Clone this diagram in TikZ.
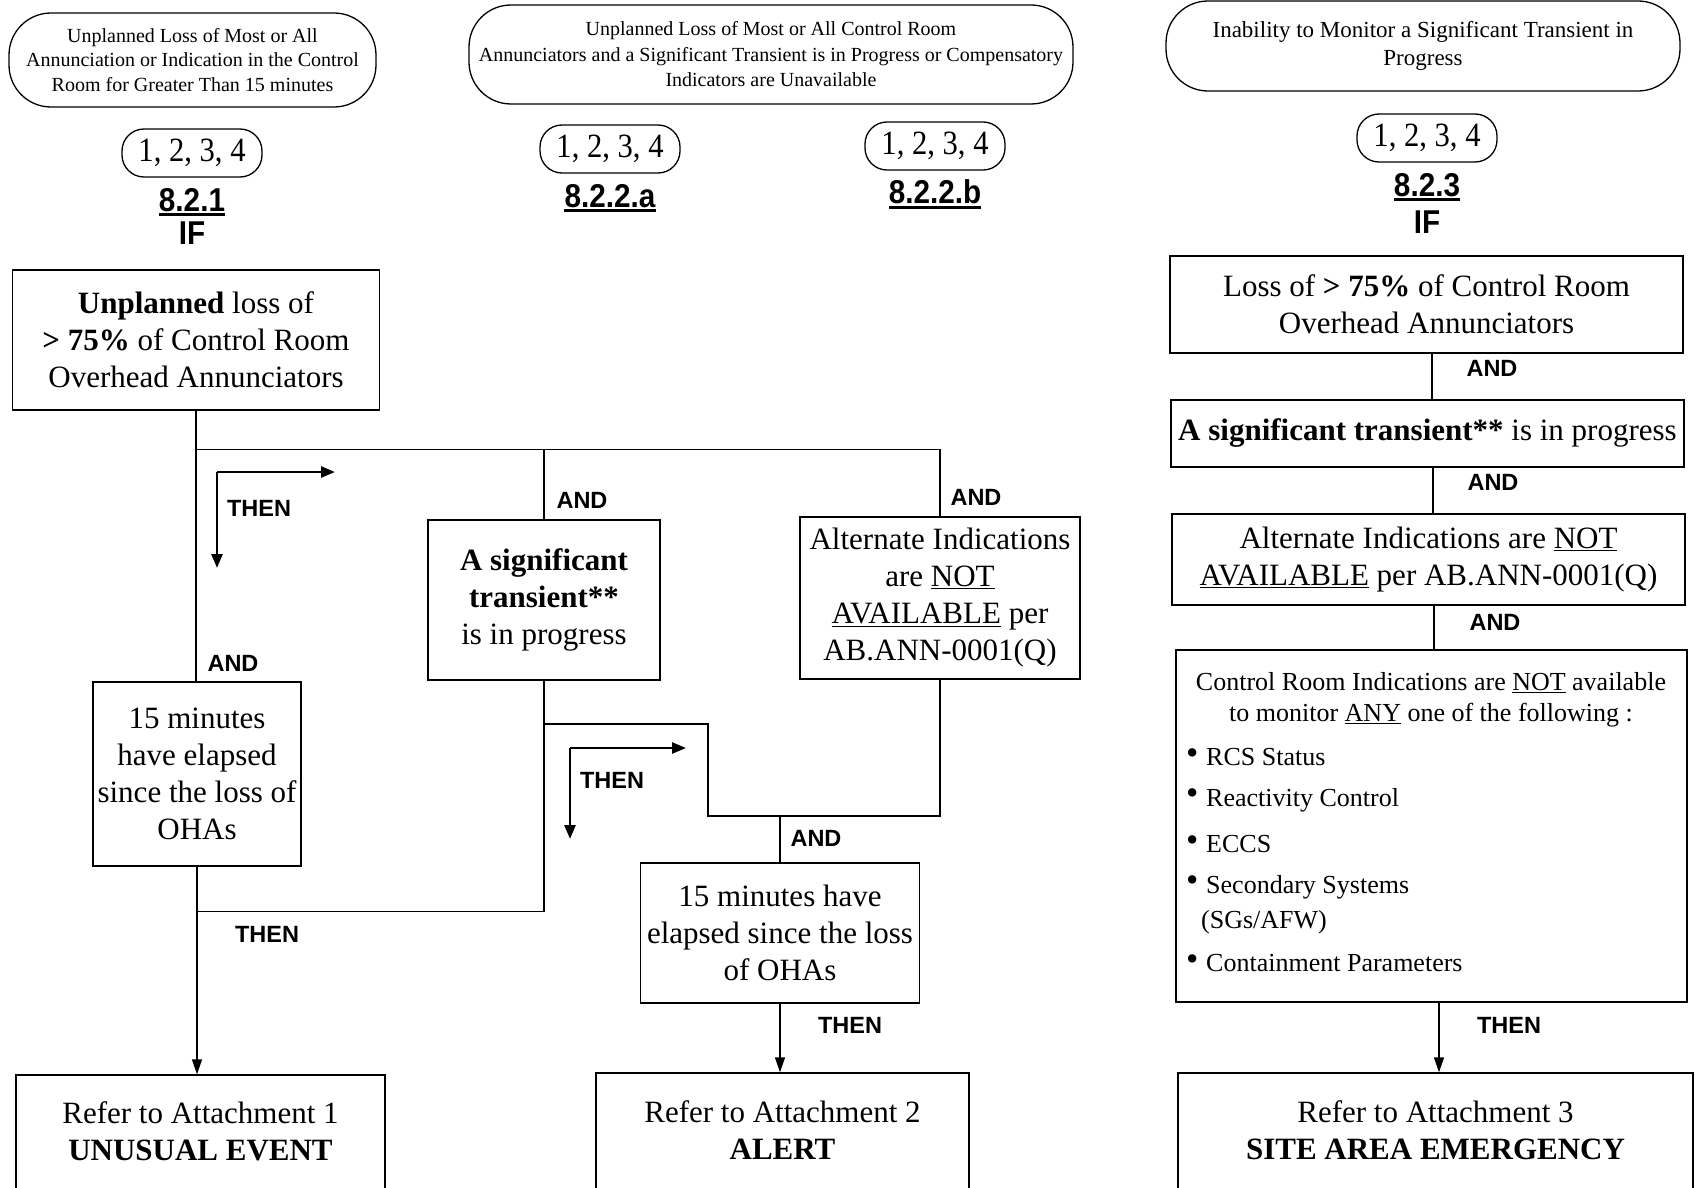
\documentclass[tikz,border=0pt]{standalone}
\usepackage{fontspec}
\setmainfont{Liberation Serif}
\setsansfont{Liberation Sans}
\newcommand\myul[1]{\underline{#1}}
\newcommand\mybul{\makebox[20pt][l]{\raisebox{1.5pt}{\scalebox{1.35}{\textbullet}}}}
\usetikzlibrary{arrows.meta,calc}
\tikzset{
  box/.style={draw, line width=1.4pt, inner sep=0pt, align=center, font=\fontsize{31}{37}\selectfont},
  plain/.style={inner sep=0pt, align=center, font=\fontsize{31}{37}\selectfont},
  oval/.style={draw, line width=1.3pt, rounded corners=42pt, inner sep=0pt, align=center},
  num/.style={draw, line width=1.3pt, rounded corners=22pt, minimum width=140pt, minimum height=48pt, inner sep=0pt, font=\fontsize{34}{36}\selectfont},
  sec/.style={font=\sffamily\bfseries\fontsize{33}{33}\selectfont, inner sep=0pt},
  lab/.style={font=\sffamily\bfseries\fontsize{23.5}{23.5}\selectfont, inner sep=0pt},
  conn/.style={line width=1.4pt},
  arr/.style={conn, -{Triangle[length=15pt,width=10pt]}},
  thenarr/.style={line width=2.6pt, -{Triangle[length=14pt,width=11pt]}},
  ulsec/.style={line width=2.8pt},
  r4txt/.style={inner sep=0pt, anchor=west, font=\fontsize{26}{30}\selectfont},
}
\begin{document}
\begin{tikzpicture}[x=1pt,y=-1pt]
\useasboundingbox (0,0) rectangle (1695,1188);
\clip (0,0) rectangle (1695,1188);
% ---------- header ovals ----------
\node[oval, minimum width=367pt, minimum height=94pt, font=\fontsize{20}{24.5}\selectfont] (O1) at (192.5,60)
  {Unplanned Loss of Most or All\\Annunciation or Indication in the Control\\Room for Greater Than 15 minutes};
\node[oval, minimum width=604pt, minimum height=99pt, font=\fontsize{20}{25.5}\selectfont] (O2) at (771,54.5)
  {Unplanned Loss of Most or All Control Room\\Annunciators and a Significant Transient is in Progress or Compensatory\\Indicators are Unavailable};
\node[oval, minimum width=514pt, minimum height=90pt, font=\fontsize{23}{28}\selectfont] (O3) at (1423,46)
  {Inability to Monitor a Significant Transient in\\Progress};
% ---------- mode ovals and section numbers ----------
\node[num] (S1) at (192,153) {\scalebox{0.9}[1]{1, 2, 3, 4}};
\node[num] (S2a) at (610,149) {\scalebox{0.9}[1]{1, 2, 3, 4}};
\node[num] (S2b) at (935,146) {\scalebox{0.9}[1]{1, 2, 3, 4}};
\node[num] (S3) at (1427,138) {\scalebox{0.9}[1]{1, 2, 3, 4}};
\node[sec] (H1) at (192,200) {\scalebox{0.9}[1]{8.2.1}};
\node[sec] (H2a) at (610,196) {\scalebox{0.9}[1]{8.2.2.a}};
\node[sec] (H2b) at (935,192) {\scalebox{0.9}[1]{8.2.2.b}};
\node[sec] (H3) at (1427,185) {\scalebox{0.9}[1]{8.2.3}};
\foreach \h in {H1,H2a,H2b,H3}
  \draw[ulsec] ([yshift=-3.5pt]\h.base west) -- ([yshift=-3.5pt]\h.base east);
\node[sec] (IF1) at (192,233) {\scalebox{0.9}[1]{IF}};
\node[sec] (IF3) at (1427,222) {\scalebox{0.9}[1]{IF}};
% ---------- left / middle boxes ----------
\node[box, minimum width=367pt, minimum height=140pt] (A) at (196,340)
  {\textbf{Unplanned} loss of\\\textbf{> 75\%} of Control Room\\Overhead Annunciators};
\node[box, minimum width=232pt, minimum height=160pt] (T) at (544,600)
  {\textbf{A significant}\\\textbf{transient**}\\is in progress};
\node[box, minimum width=280pt, minimum height=162pt] (Alt) at (940,598)
  {Alternate Indications\\are \myul{NOT}\\\myul{AVAILABLE} per\\AB.ANN-0001(Q)};
\node[box, minimum width=208pt, minimum height=184pt] (ML) at (197,774)
  {15 minutes\\have elapsed\\since the loss of\\OHAs};
\node[box, minimum width=279pt, minimum height=140pt] (MM) at (780,933)
  {15 minutes have\\elapsed since the loss\\of OHAs};
\node[box, minimum width=369pt, minimum height=150pt] (Att1) at (200.5,1150) {};
\node[plain] (Att1t) at (200.5,1131) {Refer to Attachment 1\\\textbf{UNUSUAL EVENT}};
\node[box, minimum width=373pt, minimum height=150pt] (Att2) at (782.5,1148) {};
\node[plain] (Att2t) at (782.5,1130) {Refer to Attachment 2\\\textbf{ALERT}};
% ---------- right column ----------
\node[box, minimum width=513pt, minimum height=97pt] (R1) at (1426.5,304.5)
  {Loss of \textbf{> 75\%} of Control Room\\Overhead Annunciators};
\node[box, minimum width=513pt, minimum height=67pt] (R2) at (1427.5,433.5)
  {\textbf{A significant transient**} is in progress};
\node[box, minimum width=513pt, minimum height=91pt] (R3) at (1428.5,559.5)
  {Alternate Indications are \myul{NOT}\\\myul{AVAILABLE} per AB.ANN-0001(Q)};
\node[box, minimum width=511pt, minimum height=352pt] (R4) at (1431.5,826) {};
\node[plain, font=\fontsize{26}{31}\selectfont] (R4h) at (1431,700)
  {Control Room Indications are \myul{NOT} available\\to monitor \myul{ANY} one of the following :};
\node[r4txt] (b1) at (1186,757) {\mybul RCS Status};
\node[r4txt] (b2) at (1186,800) {\mybul Reactivity Control};
\node[r4txt] (b3) at (1186,844) {\mybul ECCS};
\node[r4txt] (b4) at (1186,887) {\mybul Secondary Systems};
\node[r4txt] (b4b) at (1201,922) {(SGs/AFW)};
\node[r4txt] (b5) at (1186,963) {\mybul Containment Parameters};
\node[box, minimum width=515pt, minimum height=150pt] (R5) at (1435.5,1148) {};
\node[plain] (R5t) at (1435.5,1130) {Refer to Attachment 3\\\textbf{SITE AREA EMERGENCY}};
% ---------- connectors: left / middle ----------
\coordinate (j1) at ($(A.south)+(0,39)$);
\coordinate (j2) at (Alt.north |- j1);
\coordinate (j3) at (T.north |- j1);
\draw[conn] (A.south) -- (A.south |- ML.north);
\draw[conn] (j1) -- (j2) -- (Alt.north);
\draw[conn] (j3) -- (T.north);
\coordinate (j4) at ($(ML.south)+(0,45)$);
\draw[arr] (ML.south) -- (ML.south |- Att1.north);
\draw[conn] (j4) -- (T.south |- j4) -- (T.south);
\coordinate (k1) at (708,724);
\coordinate (k2) at (708,816);
\coordinate (k3) at (Alt.south |- k2);
\coordinate (k4) at (MM.north |- k2);
\draw[conn] (T.south |- k1) -- (k1) -- (k2) -- (k3) -- (Alt.south);
\draw[conn] (k4) -- (MM.north);
\draw[arr] (MM.south) -- (MM.south |- Att2.north);
% THEN direction glyphs
\coordinate (g1) at (217,472);
\draw[thenarr] (g1) -- ++(0,96);
\draw[thenarr] (g1) -- ++(118,0);
\coordinate (g2) at (570,748);
\draw[thenarr] (g2) -- ++(0,91);
\draw[thenarr] (g2) -- ++(116,0);
% ---------- connectors: right ----------
\coordinate (c1) at ([xshift=5.5pt]R1.south);
\coordinate (c2) at ([xshift=5.5pt]R2.south);
\coordinate (c3) at ([xshift=5.5pt]R3.south);
\coordinate (c4) at ([xshift=7.5pt]R4.south);
\draw[conn] (c1) -- (c1 |- R2.north);
\draw[conn] (c2) -- (c2 |- R3.north);
\draw[conn] (c3) -- (c3 |- R4.north);
\draw[arr] (c4) -- (c4 |- R5.north);
% ---------- labels ----------
\node[lab] (l1) at (259,508) {THEN};
\node[lab] (l2) at (233,663) {AND};
\node[lab] (l3) at (582,500) {AND};
\node[lab] (l4) at (976,497) {AND};
\node[lab] (l5) at (612,780) {THEN};
\node[lab] (l6) at (816,838) {AND};
\node[lab] (l7) at (267,934) {THEN};
\node[lab] (l8) at (850,1025) {THEN};
\node[lab] (l9) at (1492,368) {AND};
\node[lab] (l10) at (1493,482) {AND};
\node[lab] (l11) at (1495,622) {AND};
\node[lab] (l12) at (1509,1025) {THEN};
\end{tikzpicture}
\end{document}
